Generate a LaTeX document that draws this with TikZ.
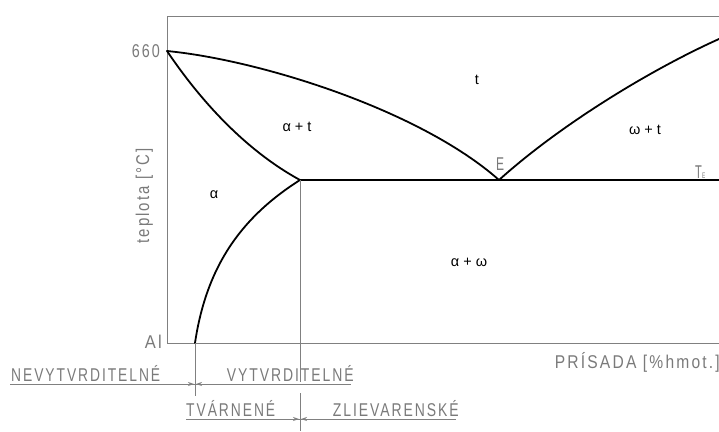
\documentclass[tikz,border=0pt]{standalone}
\usepackage{graphicx}
\usepackage{fontspec}
\setmainfont{Liberation Sans}
\newfontfamily\cadfont[LetterSpace=14]{Liberation Sans}
\usetikzlibrary{arrows.meta}
\definecolor{cadgray}{HTML}{7A7A7A}
\definecolor{framegray}{HTML}{808080}
\newcommand{\cadtxt}[2]{\resizebox{#1}{\height}{#2}}
\begin{document}
\begin{tikzpicture}[x=1pt,y=-1pt,
  phase/.style={font=\fontsize{14.5}{14.5}\selectfont, text=black, inner sep=0pt},
  cad/.style={font=\cadfont\fontsize{18.5}{18.5}\selectfont, text=cadgray, inner sep=0pt},
  curve/.style={line width=1.8pt, line join=round, line cap=round},
  thinline/.style={line width=0.9pt, draw=framegray},
  tip/.style={-{Stealth[length=6pt,width=4pt]}, line width=0.9pt, draw=framegray, fill=framegray}]
\useasboundingbox (0,0) rectangle (719,431);
% key points
\coordinate (O) at (167,343);
\coordinate (TL) at (167,16);
\coordinate (TR) at (719,16);
\coordinate (BR) at (719,343);
\coordinate (M) at (167,51);
\coordinate (E) at (499,180);
\coordinate (S) at (300,180);
\coordinate (Te) at (719,180);
\coordinate (R) at (719,39);
\coordinate (A) at (195,343);
% frame
\draw[thinline] (TR) -- (TL) -- (O) -- (BR);
% liquidus left
\draw[curve] (M) .. controls (260,60) and (420,110) .. (E);
% liquidus right
\draw[curve] (E) .. controls (560,125) and (650,70) .. (R);
% solidus
\draw[curve] (M) .. controls (200,100) and (245,150) .. (S);
% solvus
\draw[curve] (A) .. controls (207,262) and (245,215) .. (S);
% eutectic
\draw[curve, line cap=butt] (S) -- (Te);
% vertical guides
\coordinate (A2) at (195,396);
\coordinate (S2) at (300,382);
\coordinate (S3) at (300,393);
\coordinate (S4) at (300,431);
\draw[thinline] (A) -- (A2);
\draw[thinline] (S) -- (S2);
\draw[thinline] (S3) -- (S4);
% dimension lines
\coordinate (L1a) at (10,384);
\coordinate (L1b) at (351,384);
\coordinate (L2a) at (186,419);
\coordinate (L2b) at (456,419);
\draw[thinline] (L1a) -- (L1b);
\draw[thinline] (L2a) -- (L2b);
\coordinate (p1) at (185,384); \coordinate (q1) at (194,384);
\coordinate (p2) at (205,384); \coordinate (q2) at (196,384);
\coordinate (p3) at (290,419); \coordinate (q3) at (299,419);
\coordinate (p4) at (310,419); \coordinate (q4) at (301,419);
\draw[tip] (p1) -- (q1);
\draw[tip] (p2) -- (q2);
\draw[tip] (p3) -- (q3);
\draw[tip] (p4) -- (q4);
% CAD texts
\node[cad, anchor=base west] (nev) at (11,381) {\cadtxt{149pt}{NEVYTVRDITELNÉ}};
\node[cad, anchor=base east] (vyt) at (354,381) {\cadtxt{127pt}{VYTVRDITELNÉ}};
\node[cad, anchor=base west] (tva) at (186,416) {\cadtxt{89pt}{TVÁRNENÉ}};
\node[cad, anchor=base east] (zli) at (459,416) {\cadtxt{126pt}{ZLIEVARENSKÉ}};
\node[cad, anchor=base east] (pri) at (720,368) {\cadtxt{165pt}{PRÍSADA [\%hmot.]}};
\node[cad, anchor=base east] (t660) at (160,57) {\cadtxt{28pt}{660}};
\node[cad, anchor=base east] (al) at (162,348) {\cadtxt{17pt}{Al}};
\node[cad, rotate=90, anchor=base] (tep) at (149,196) {\cadtxt{95pt}{teplota [°C]}};
\node[cad] (Elab) at (500,164) {\cadtxt{8pt}{E}};
\node[cad, anchor=base west] (TE) at (695,178) {\cadtxt{10pt}{T{\fontsize{8}{8}\selectfont E}}};
% phase labels
\node[phase] (lt) at (477,80) {t};
\node[phase] (lat) at (297,127) {α + t};
\node[phase] (lwt) at (645,130) {ω + t};
\node[phase] (la) at (214,195) {α};
\node[phase] (law) at (469,262) {α + ω};
\end{tikzpicture}
\end{document}
